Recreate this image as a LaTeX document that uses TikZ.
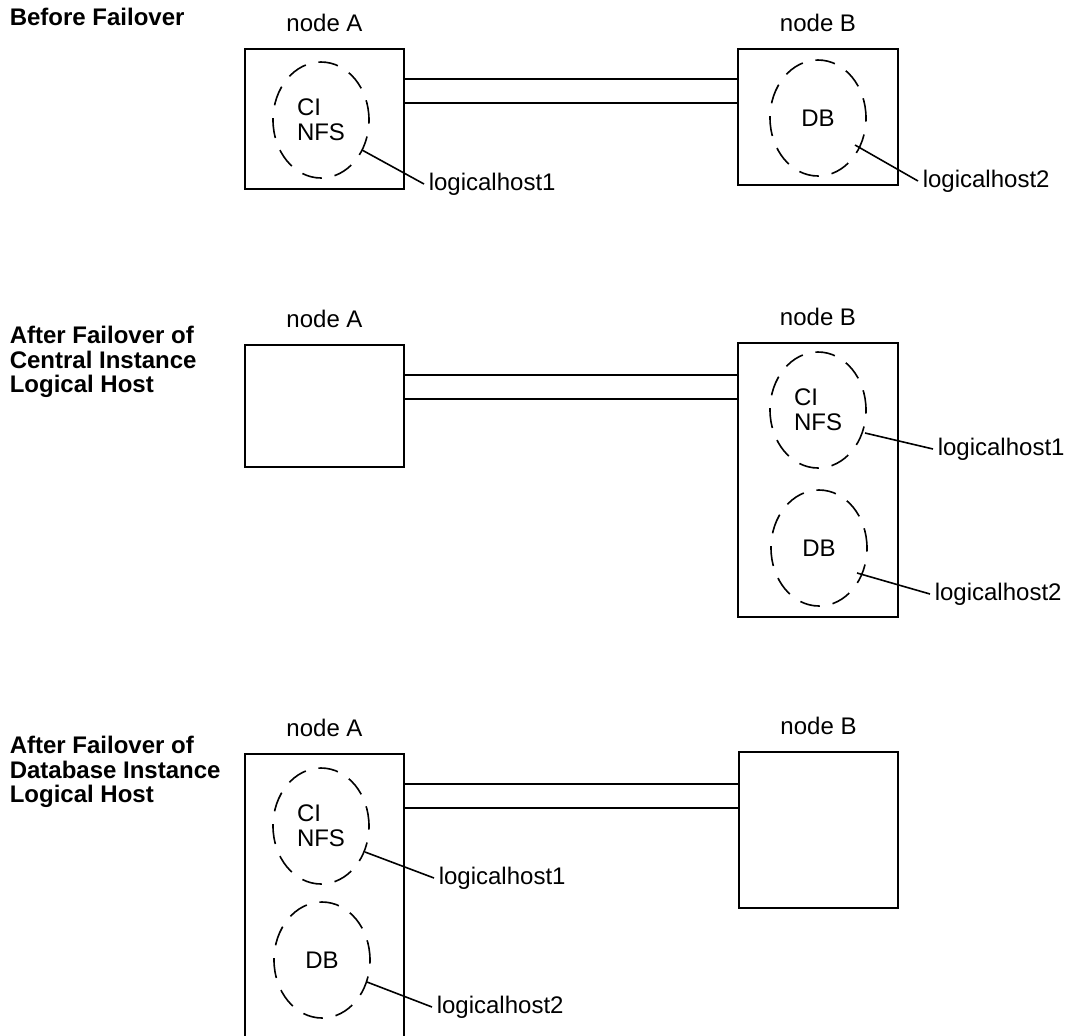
\documentclass[tikz,border=0pt]{standalone}
\usepackage{fontspec}
\setmainfont{Liberation Sans}
\usetikzlibrary{shapes.geometric}
\usetikzlibrary{positioning}

\begin{document}
\begin{tikzpicture}[x=0.5pt, y=-0.5pt, line width=0.8pt,
  font=\fontsize{12}{12.5}\selectfont,
  box/.style={draw, rectangle, inner sep=0pt},
  host/.style={draw, ellipse, dash pattern=on 10pt off 6.5pt, minimum width=48pt, minimum height=58pt, inner sep=0pt, align=left},
  lhost/.style={anchor=west, inner sep=2pt},
  title/.style={anchor=north west, inner sep=0pt, align=left, font=\fontsize{12}{12.25}\selectfont\bfseries}]
\clip (0,0) rectangle (1071,1035);

% before failover
\node[title] (t1) at (9,7.5) {Before Failover};
\node[box, minimum width=79.5pt, minimum height=70pt] (a1) at (324.5,119) {};
\node[box, minimum width=80pt, minimum height=68pt] (b1) at (818,117) {};
\node[above=4.5pt of a1] (na1) {node A};
\node[above=4.5pt of b1] (nb1) {node B};
\node[host] (ci1) at (321,120) {CI\\NFS};
\node[host] (db1) at (818,118) {DB};
\node[lhost] (lh1a) at (424,184) {logicalhost1};
\node[lhost] (lh2a) at (918,181) {logicalhost2};
\draw ([shift={(41,30)}]ci1.center) -- (lh1a.west);
\draw ([shift={(37,27)}]db1.center) -- (lh2a.west);

% after failover of central instance
\node[title] (t2) at (9,325.5) {After Failover of\\Central Instance\\Logical Host};
\node[box, minimum width=79.5pt, minimum height=61pt] (a2) at (324.5,406) {};
\node[box, minimum width=80pt, minimum height=137pt] (b2) at (818,480) {};
\node[above=4.5pt of a2] (na2) {node A};
\node[above=4.5pt of b2] (nb2) {node B};
\node[host] (ci2) at (818,410) {CI\\NFS};
\node[host] (db2) at (819,548) {DB};
\node[lhost] (lh1b) at (933,449) {logicalhost1};
\node[lhost] (lh2b) at (930,594) {logicalhost2};
\draw ([shift={(47,23)}]ci2.center) -- (lh1b.west);
\draw ([shift={(38,25)}]db2.center) -- (lh2b.west);

% after failover of database instance
\node[title] (t3) at (9,735.5) {After Failover of\\Database Instance\\Logical Host};
\node[box, minimum width=79.5pt, minimum height=153pt] (a3) at (324.5,907) {};
\node[box, minimum width=79.5pt, minimum height=78pt] (b3) at (818.5,830) {};
\node[above=4.5pt of a3] (na3) {node A};
\node[above=4.5pt of b3] (nb3) {node B};
\node[host] (ci3) at (321,826) {CI\\NFS};
\node[host] (db3) at (322,960) {DB};
\node[lhost] (lh1c) at (434,878) {logicalhost1};
\node[lhost] (lh2c) at (432,1007) {logicalhost2};
\draw ([shift={(44,26)}]ci3.center) -- (lh1c.west);
\draw ([shift={(45,22)}]db3.center) -- (lh2c.west);

\foreach \a/\b in {a1/b1,a2/b2,a3/b3}
  \foreach \off in {15.5pt,27.5pt}
    \draw ([yshift=-\off]\a.north east) coordinate (w) -- (w -| \b.west);
\end{tikzpicture}
\end{document}
